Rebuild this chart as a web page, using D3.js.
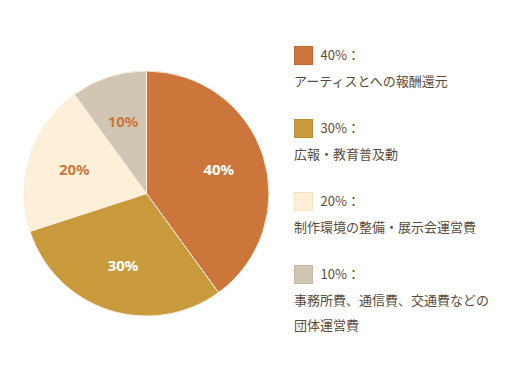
<!DOCTYPE html>
<html><head><meta charset="utf-8">
<script src="https://cdn.jsdelivr.net/npm/d3@7"></script>
<style>html,body{margin:0;padding:0;background:#fff;}</style>
</head><body>
<script>
const values = [40, 30, 20, 10];
const pctLabels = ["40%", "30%", "20%", "10%"];
const legendTitles = ["40%：", "30%：", "20%：", "10%："];
const legendLines = [
  ["アーティスとへの報酬還元"],
  ["広報・教育普及動"],
  ["制作環境の整備・展示会運営費"],
  ["事務所費、通信費、交通費などの", "団体運営費"]
];
const colors = ["#CC763C", "#C99A3C", "#FEF0D8", "#D0C6B3"];
const labelColors = ["#ffffff", "#ffffff", "#CC763C", "#CC763C"];
const borderColors = ["#C46A2E", "#BE8E30", "#F3E2C2", "#C3B9A5"];

const W = 509, H = 378;
const svg = d3.select("body").append("svg").attr("width", W).attr("height", H);

const cx = 146.5, cy = 193.5, R = 122.5;
const pie = d3.pie().sort(null).value(d => d);
const arcs = pie(values);
const arc = d3.arc().innerRadius(0).outerRadius(R);
const labelArc = d3.arc().innerRadius(R * 0.62).outerRadius(R * 0.62);

const g = svg.append("g").attr("transform", `translate(${cx},${cy})`);
g.selectAll("path").data(arcs).join("path")
  .attr("d", arc)
  .attr("fill", (d, i) => colors[i])
  .attr("stroke", "#f6eee2")
  .attr("stroke-width", 1);

g.selectAll("text").data(arcs).join("text")
  .attr("transform", d => `translate(${labelArc.centroid(d)})`)
  .attr("text-anchor", "middle")
  .attr("dy", "0.36em")
  .attr("font-family", "'Noto Sans', 'Open Sans', sans-serif")
  .attr("font-weight", 700)
  .attr("font-size", 15)
  .attr("fill", (d, i) => labelColors[i])
  .text((d, i) => pctLabels[i]);

const lx = 294.5, ly0 = 46, step = 73, lineH = 25;
const font = "'Noto Sans CJK JP', 'Noto Sans', sans-serif";
const lg = svg.append("g");
values.forEach((v, i) => {
  const y = ly0 + i * step;
  lg.append("rect").attr("x", lx).attr("y", y + 0.5).attr("width", 18).attr("height", 18)
    .attr("fill", colors[i]).attr("stroke", borderColors[i]).attr("stroke-width", 1);
  lg.append("text").attr("x", lx + 26).attr("y", y + 9.5).attr("dy", "0.36em")
    .attr("font-family", font).attr("font-size", 13).attr("fill", "#5a4a3c")
    .text(legendTitles[i]);
  legendLines[i].forEach((t, j) => {
    lg.append("text").attr("x", lx - 0.5).attr("y", y + 35 + j * lineH).attr("dy", "0.36em")
      .attr("font-family", font).attr("font-size", 13).attr("fill", "#5a4a3c")
      .text(t);
  });
});
</script>
</body></html>
